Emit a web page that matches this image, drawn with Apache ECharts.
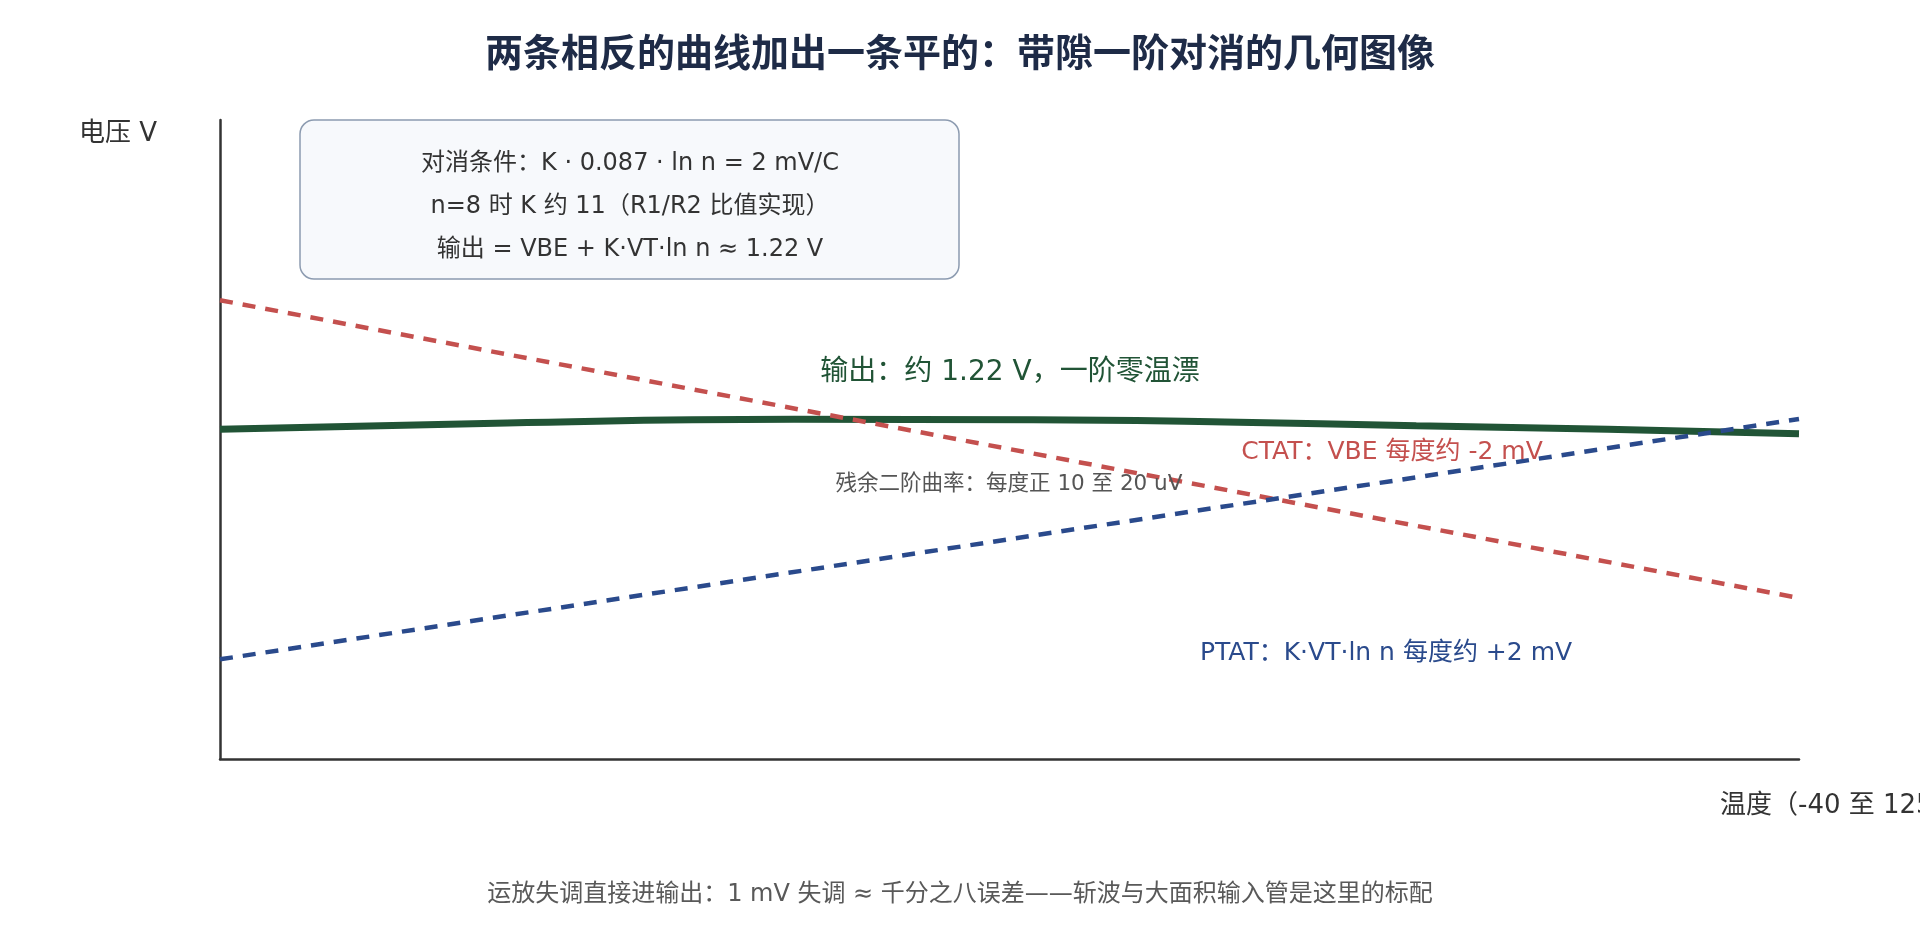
<!DOCTYPE html>
<html>
<head>
<meta charset="utf-8">
<title>带隙一阶对消</title>
<script src="https://cdn.jsdelivr.net/npm/echarts@6.0.0/dist/echarts.min.js"></script>
<style>
  html, body { margin: 0; padding: 0; background: #fff; }
  #chart { width: 1920px; height: 940px; }
</style>
</head>
<body>
<div id="chart"></div>
<script>
// 温度 (°C) 与示意电压 (归一化 0-100)
const lineTemps = [-40, 125]
const ctatValues = [71.8, 25.2]
const ptatValues = [15.6, 53.2]
const outputTemps = [-40, -10, 20, 45, 65, 85, 105, 125]
const outputValues = [51.6, 52.6, 53.15, 53.1, 52.75, 52.15, 51.6, 50.9]

const titleText = '两条相反的曲线加出一条平的：带隙一阶对消的几何图像'
const xName = '温度（-40 至 125 °C）'
const yName = '电压 V'
const boxLines = [
    '对消条件：K · 0.087 · ln n = 2 mV/C',
    'n=8 时 K 约 11（R1/R2 比值实现）',
    '输出 = VBE + K·VT·ln n ≈ 1.22 V'
]
const outputLabel = '输出：约 1.22 V，一阶零温漂'
const ctatLabel = 'CTAT：VBE 每度约 -2 mV'
const ptatLabel = 'PTAT：K·VT·ln n 每度约 +2 mV'
const residualLabel = '残余二阶曲率：每度正 10 至 20 uV'
const footerText = '运放失调直接进输出：1 mV 失调 ≈ 千分之八误差——斩波与大面积输入管是这里的标配'

const FONT = "'DejaVu Sans', 'Noto Sans CJK SC', sans-serif"
const pairs = (xs, ys) => xs.map((x, i) => [x, ys[i]])

const label = (text, x, y, color, size) => ({
    type: 'text',
    x: x,
    y: y,
    z: 50,
    style: {
        text: text,
        fill: color,
        fontSize: size,
        fontFamily: FONT,
        align: 'center',
        verticalAlign: 'middle'
    }
})

const option = {
    backgroundColor: '#ffffff',
    textStyle: { fontFamily: FONT },
    title: {
        text: titleText,
        left: 'center',
        top: 37,
        padding: 0,
        textStyle: {
            fontSize: 38,
            fontWeight: 'bold',
            color: '#1e2b47',
            fontFamily: FONT
        }
    },
    grid: {
        left: 220,
        right: 121,
        top: 120,
        bottom: 181,
        containLabel: false,
        outerBoundsMode: 'none'
    },
    xAxis: {
        type: 'value',
        min: -40,
        max: 125,
        name: xName,
        nameLocation: 'end',
        nameGap: -79,
        nameMoveOverlap: false,
        nameTextStyle: {
            fontSize: 26,
            color: '#333',
            fontFamily: FONT,
            align: 'left',
            verticalAlign: 'top',
            padding: [34, 0, 0, 0]
        },
        axisLine: { show: true, onZero: false, lineStyle: { color: '#333', width: 2.5 } },
        axisTick: { show: false },
        axisLabel: { show: false },
        splitLine: { show: false }
    },
    yAxis: {
        type: 'value',
        min: 0,
        max: 100,
        name: yName,
        nameLocation: 'end',
        nameGap: -14,
        nameMoveOverlap: false,
        nameTextStyle: {
            fontSize: 26,
            color: '#333',
            fontFamily: FONT,
            align: 'right',
            verticalAlign: 'middle',
            padding: [0, 63, 0, 0]
        },
        axisLine: { show: true, onZero: false, lineStyle: { color: '#333', width: 2.5 } },
        axisTick: { show: false },
        axisLabel: { show: false },
        splitLine: { show: false }
    },
    series: [
        {
            name: '输出',
            type: 'line',
            smooth: true,
            symbol: 'none',
            data: pairs(outputTemps, outputValues),
            lineStyle: { color: '#215436', width: 7 },
            z: 2
        },
        {
            name: 'CTAT',
            type: 'line',
            symbol: 'none',
            data: pairs(lineTemps, ctatValues),
            lineStyle: { color: '#c4504e', width: 4.5, type: [13, 10] },
            z: 3
        },
        {
            name: 'PTAT',
            type: 'line',
            symbol: 'none',
            data: pairs(lineTemps, ptatValues),
            lineStyle: { color: '#2a4a8c', width: 4.5, type: [13, 10] },
            z: 4
        }
    ],
    graphic: [
        {
            type: 'rect',
            z: 40,
            shape: { x: 300, y: 120, width: 659, height: 159, r: 14 },
            style: { fill: '#f7f9fc', stroke: '#8c9bb0', lineWidth: 1.5 }
        },
        {
            type: 'text',
            x: 630,
            y: 207,
            z: 41,
            style: {
                text: boxLines.join('\n'),
                fill: '#333',
                fontSize: 24,
                lineHeight: 43,
                fontFamily: FONT,
                align: 'center',
                verticalAlign: 'middle'
            }
        },
        label(outputLabel, 1010, 373, '#215436', 28),
        label(ctatLabel, 1392, 452, '#c4504e', 25),
        label(residualLabel, 1009, 484, '#555', 21.5),
        label(ptatLabel, 1386, 653, '#2a4a8c', 25),
        label(footerText, 960, 895, '#595959', 24)
    ]
}

const mychart = echarts.init(document.getElementById('chart'))
mychart.setOption(option)
</script>
</body>
</html>
